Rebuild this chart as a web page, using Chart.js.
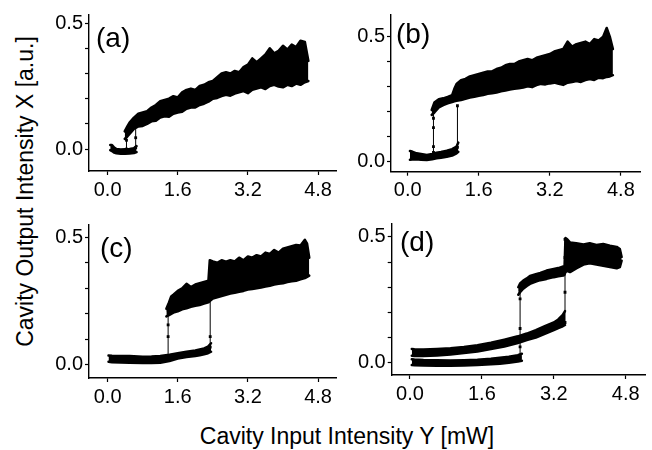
<!DOCTYPE html>
<html><head><meta charset="utf-8">
<script src="https://cdn.jsdelivr.net/npm/chart.js@4.4.1/dist/chart.umd.min.js"></script>
<style>
html,body{margin:0;padding:0;background:#fff;}
#wrap{position:relative;width:652px;height:450px;overflow:hidden;background:#fff;}
canvas{position:absolute;}
.t{position:absolute;font-family:'Liberation Sans',Arial,sans-serif;font-size:23px;line-height:23px;color:#000;white-space:nowrap;text-align:center;width:400px;height:23px;}
</style></head><body>
<div id="wrap">
<canvas id="ca" width="300" height="210" style="left:40px;top:0px"></canvas>
<canvas id="cb" width="310" height="210" style="left:342px;top:0px"></canvas>
<canvas id="cc" width="300" height="210" style="left:40px;top:210px"></canvas>
<canvas id="cd" width="310" height="210" style="left:342px;top:210px"></canvas>
<div class="t" id="xt" style="left:147px;top:425px"></div>
<div class="t" id="yt" style="left:-175px;top:180px;transform:rotate(-90deg)"></div>
</div>
<script>
// ---- text ----
const xTitle = 'Cavity Input Intensity Y [mW]';
const yTitle = 'Cavity Output Intensity X [a.u.]';
const panelLabels = ['(a)', '(b)', '(c)', '(d)'];
const xTickValues = [0, 1.6, 3.2, 4.8];
const yTickValues = [0, 0.1, 0.2, 0.3, 0.4, 0.5];
const yTickLabels = ['0.0', '', '', '', '', '0.5'];

// ---- panel (a) ----
const aLowX  = [0.06, 0.1, 0.15, 0.2, 0.3, 0.4, 0.5, 0.6, 0.66];
const aLowHi = [0.016, 0.016, 0.006, 0.0, -0.002, -0.001, 0.0, 0.003, 0.012];
const aLowLo = [-0.004, -0.008, -0.014, -0.017, -0.019, -0.019, -0.018, -0.016, -0.012];
const aUpX  = [0.39,0.45,0.5,0.6,0.7,0.8,0.9,1.0,1.1,1.2,1.3,1.4,1.5,1.6,1.7,1.8,1.9,2.0,2.1,2.2,2.3,2.4,2.5,2.6,2.7,2.8,2.9,3.0,3.1,3.2,3.3,3.4,3.5,3.6,3.7,3.8,3.9,4.0,4.1,4.2,4.3,4.4,4.5,4.58];
const aUpHi = [0.07,0.09,0.105,0.125,0.14,0.145,0.15,0.165,0.175,0.19,0.195,0.2,0.21,0.205,0.225,0.235,0.24,0.235,0.25,0.255,0.265,0.27,0.285,0.3,0.305,0.3,0.31,0.305,0.325,0.335,0.36,0.345,0.36,0.375,0.4,0.38,0.39,0.41,0.395,0.415,0.405,0.43,0.425,0.35];
const aUpLo = [0.04,0.05,0.06,0.08,0.09,0.092,0.1,0.11,0.112,0.125,0.13,0.128,0.14,0.145,0.148,0.16,0.165,0.165,0.175,0.18,0.188,0.2,0.203,0.21,0.215,0.212,0.22,0.225,0.23,0.222,0.235,0.24,0.245,0.238,0.25,0.255,0.248,0.245,0.255,0.25,0.26,0.255,0.265,0.27];
const aJump1X = 0.43, aJump1Y = [0.0, 0.035, 0.07];
const aJump2X = 0.64, aJump2Y = [0.005, 0.045, 0.09];

// ---- panel (b) ----
const bLowX  = [0.05,0.1,0.2,0.3,0.43,0.55,0.65,0.75,0.88,1.0,1.1,1.14];
const bLowHi = [0.04,0.038,0.031,0.028,0.024,0.028,0.033,0.036,0.041,0.048,0.058,0.074];
const bLowLo = [0.005,0.006,0.007,0.005,0.004,0.007,0.011,0.013,0.017,0.022,0.031,0.037];
const bUpX  = [0.54,0.6,0.7,0.8,0.9,1.0,1.05,1.1,1.2,1.3,1.4,1.5,1.6,1.7,1.8,1.9,2.0,2.1,2.2,2.3,2.4,2.5,2.6,2.7,2.8,2.9,3.0,3.1,3.2,3.3,3.4,3.5,3.6,3.7,3.8,3.9,4.0,4.1,4.2,4.3,4.4,4.48,4.55,4.62];
const bUpHi = [0.205,0.235,0.248,0.252,0.258,0.265,0.29,0.31,0.325,0.33,0.34,0.345,0.35,0.355,0.36,0.36,0.37,0.375,0.385,0.39,0.39,0.4,0.405,0.41,0.405,0.415,0.42,0.425,0.43,0.44,0.445,0.45,0.48,0.46,0.47,0.475,0.48,0.47,0.49,0.485,0.5,0.535,0.5,0.45];
const bUpLo = [0.185,0.195,0.215,0.225,0.232,0.237,0.24,0.242,0.245,0.25,0.255,0.258,0.262,0.265,0.27,0.272,0.275,0.28,0.283,0.287,0.29,0.292,0.295,0.3,0.297,0.305,0.31,0.308,0.312,0.315,0.31,0.306,0.315,0.318,0.322,0.318,0.325,0.33,0.326,0.335,0.333,0.338,0.34,0.345];
const bJump1X = 0.58, bJump1Y = [0.035, 0.058, 0.134, 0.172, 0.205];
const bJump2X = 1.12, bJump2Y = [0.055, 0.222];

// ---- panel (c) ----
const cLowX  = [0.02,0.1,0.3,0.5,0.8,1.0,1.2,1.41,1.6,1.8,2.0,2.1,2.2,2.29,2.36];
const cLowHi = [0.037,0.036,0.035,0.035,0.032,0.033,0.035,0.04,0.046,0.052,0.057,0.061,0.065,0.072,0.085];
const cLowLo = [0.013,0.011,0.01,0.009,0.008,0.008,0.009,0.015,0.025,0.031,0.035,0.038,0.042,0.046,0.052];
const cUpX  = [1.34,1.4,1.45,1.5,1.6,1.7,1.8,1.9,2.0,2.1,2.2,2.3,2.33,2.4,2.5,2.6,2.7,2.8,2.9,3.0,3.1,3.2,3.3,3.4,3.5,3.6,3.7,3.8,3.9,4.0,4.1,4.2,4.3,4.4,4.5,4.55,4.6];
const cUpHi = [0.22,0.245,0.268,0.275,0.29,0.3,0.318,0.305,0.315,0.32,0.325,0.33,0.41,0.405,0.4,0.41,0.404,0.41,0.405,0.42,0.41,0.425,0.42,0.43,0.425,0.44,0.435,0.45,0.44,0.455,0.46,0.465,0.47,0.468,0.49,0.475,0.42];
const cUpLo = [0.19,0.195,0.2,0.205,0.21,0.218,0.222,0.228,0.232,0.235,0.24,0.245,0.25,0.26,0.265,0.27,0.275,0.28,0.283,0.287,0.29,0.295,0.297,0.3,0.303,0.307,0.31,0.315,0.318,0.32,0.325,0.328,0.33,0.335,0.34,0.345,0.35];
const cJump1X = 1.38, cJump1Y = [0.03, 0.111, 0.157, 0.215];
const cJump2X = 2.34, cJump2Y = [0.07, 0.111, 0.26];

// ---- panel (d) ----
const dLowX  = [0.04,0.1,0.3,0.6,0.9,1.2,1.5,1.8,2.0,2.2,2.4,2.49];
const dLowHi = [0.014,0.013,0.011,0.01,0.009,0.01,0.012,0.016,0.02,0.024,0.03,0.036];
const dLowLo = [-0.009,-0.01,-0.011,-0.012,-0.012,-0.011,-0.009,-0.006,-0.004,0.0,0.005,0.008];
const dMidX  = [0.04,0.1,0.3,0.6,0.9,1.2,1.5,1.8,2.1,2.4,2.6,2.8,3.0,3.2,3.3,3.4,3.45];
const dMidHi = [0.055,0.054,0.053,0.055,0.058,0.063,0.07,0.08,0.092,0.105,0.116,0.13,0.145,0.16,0.172,0.19,0.205];
const dMidLo = [0.028,0.027,0.027,0.029,0.033,0.039,0.045,0.055,0.065,0.078,0.09,0.1,0.115,0.13,0.138,0.145,0.15];
const dUpX  = [2.41,2.45,2.52,2.6,2.67,2.8,2.9,3.04,3.2,3.3,3.41,3.44,3.46,3.5,3.56,3.7,3.86,4.0,4.15,4.3,4.45,4.6,4.67,4.71];
const dUpHi = [0.30,0.315,0.326,0.335,0.345,0.352,0.357,0.366,0.372,0.376,0.382,0.385,0.495,0.49,0.478,0.475,0.47,0.475,0.468,0.472,0.465,0.46,0.452,0.42];
const dUpLo = [0.27,0.28,0.294,0.305,0.313,0.322,0.328,0.333,0.34,0.343,0.346,0.35,0.36,0.365,0.36,0.375,0.39,0.395,0.39,0.385,0.38,0.375,0.38,0.405];
const dJump1X = 2.45, dJump1Y = [0.02, 0.063, 0.136, 0.254, 0.29];
const dJump2X = 3.45, dJump2Y = [0.16, 0.28, 0.418, 0.49];

document.getElementById('xt').textContent = xTitle;
document.getElementById('yt').textContent = yTitle;

const FONT = "'Liberation Sans', Arial, sans-serif";
const pts = (xs, ys) => xs.map((x, i) => ({ x: x, y: ys[i] }));

function band(xs, hi, lo) {
  return [
    { data: pts(xs, hi), fill: '+1', backgroundColor: '#000', borderColor: '#000', borderWidth: 2.5, pointRadius: 0, tension: 0, borderJoinStyle: 'round', borderCapStyle: 'round' },
    { data: pts(xs, lo), fill: false, backgroundColor: '#000', borderColor: '#000', borderWidth: 2.5, pointRadius: 0, tension: 0, borderJoinStyle: 'round', borderCapStyle: 'round' }
  ];
}
function jump(x, ys) {
  return { data: pts(ys.map(() => x), ys), fill: false, borderColor: '#000', backgroundColor: '#000', borderWidth: 1, pointStyle: 'rect', pointRadius: 2, pointBorderWidth: 0 };
}

function makePanel(id, idx, datasets, g) {
  const labelPlugin = {
    id: 'panelLabel' + idx,
    afterDraw(chart) {
      const ctx = chart.ctx, a = chart.chartArea;
      ctx.save();
      ctx.font = '28px ' + FONT;
      ctx.fillStyle = '#000';
      ctx.textBaseline = 'alphabetic';
      ctx.textAlign = 'left';
      ctx.fillText(panelLabels[idx], a.left + g.lx, a.top + g.ly);
      ctx.restore();
    }
  };
  new Chart(document.getElementById(id), {
    type: 'line',
    data: { datasets: datasets },
    plugins: [labelPlugin],
    options: {
      responsive: false, animation: false, devicePixelRatio: 1,
      layout: { padding: { top: g.pt, right: g.pr, left: 0, bottom: 0 } },
      plugins: { legend: { display: false }, tooltip: { enabled: false } },
      elements: { line: { tension: 0 } },
      scales: {
        x: {
          type: 'linear', min: g.xmin, max: g.xmax,
          afterBuildTicks: s => { s.ticks = xTickValues.map(v => ({ value: v })); },
          afterFit: s => { s.height = g.xh; },
          ticks: { autoSkip: false, maxRotation: 0, padding: 3, color: '#000', font: { family: FONT, size: 20 }, callback: v => v.toFixed(1) },
          grid: { display: true, drawOnChartArea: false, drawTicks: true, tickLength: 4, color: '#000', tickWidth: 1.2 },
          border: { display: true, color: '#000', width: 1.4 }
        },
        y: {
          type: 'linear', min: g.ymin, max: g.ymax,
          afterBuildTicks: s => { s.ticks = yTickValues.map(v => ({ value: v })); },
          afterFit: s => { s.width = g.yw; },
          ticks: { autoSkip: false, padding: 2, color: '#000', font: { family: FONT, size: 20 },
                   callback: (v, i) => yTickLabels[i] },
          grid: { display: true, drawOnChartArea: false, drawTicks: true, tickLength: 4, color: '#000', tickWidth: 1.2 },
          border: { display: true, color: '#000', width: 1.4 }
        }
      }
    }
  });
}

makePanel('ca', 0,
  [...band(aUpX, aUpHi, aUpLo), ...band(aLowX, aLowHi, aLowLo), jump(aJump1X, aJump1Y), jump(aJump2X, aJump2Y)],
  { xmin: -0.425, xmax: 5.21, ymin: -0.087, ymax: 0.532, pt: 15, pr: 3, xh: 39, yw: 49, lx: 7, ly: 32 });
makePanel('cb', 1,
  [...band(bUpX, bUpHi, bUpLo), ...band(bLowX, bLowHi, bLowLo), jump(bJump1X, bJump1Y), jump(bJump2X, bJump2Y)],
  { xmin: -0.376, xmax: 5.23, ymin: -0.043, ymax: 0.587, pt: 15, pr: 12, xh: 38.3, yw: 49, lx: 5, ly: 28 });
makePanel('cc', 2,
  [...band(cUpX, cUpHi, cUpLo), ...band(cLowX, cLowHi, cLowLo), jump(cJump1X, cJump1Y), jump(cJump2X, cJump2Y)],
  { xmin: -0.425, xmax: 5.21, ymin: -0.051, ymax: 0.548, pt: 15, pr: 3, xh: 42, yw: 49, lx: 11, ly: 32 });
makePanel('cd', 3,
  [...band(dUpX, dUpHi, dUpLo), ...band(dMidX, dMidHi, dMidLo), ...band(dLowX, dLowHi, dLowLo), jump(dJump1X, dJump1Y), jump(dJump2X, dJump2Y)],
  { xmin: -0.407, xmax: 5.23, ymin: -0.0485, ymax: 0.551, pt: 13, pr: 7, xh: 45, yw: 49.7, lx: 8.3, ly: 27 });
</script>
</body></html>
